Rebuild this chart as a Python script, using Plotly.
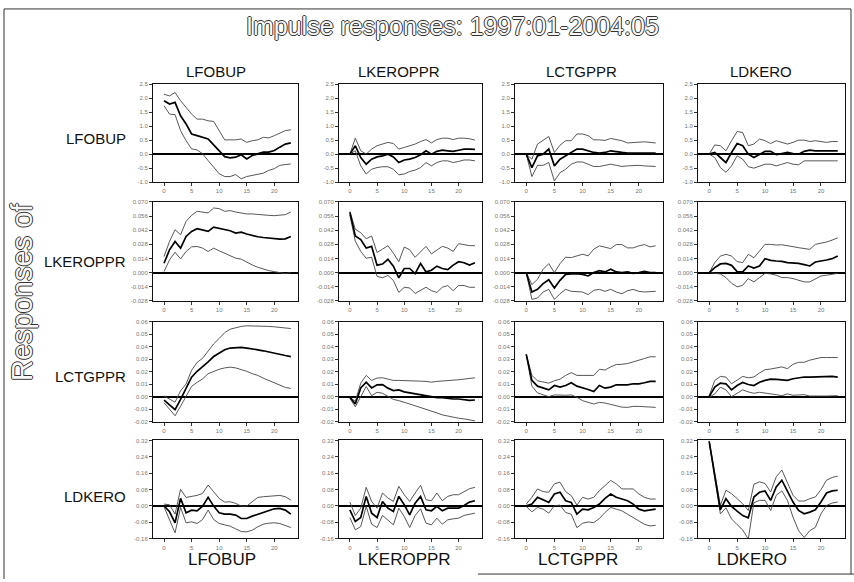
import plotly.graph_objects as go

W, H = 854, 582

# ---------------- data ----------------
periods = list(range(0, 24))
variables = ["LFOBUP", "LKEROPPR", "LCTGPPR", "LDKERO"]
title_text = "Impulse responses: 1997:01-2004:05"
side_text = "Responses of"

# Row 1: responses of LFOBUP
fob_fob_mid = [1.91, 1.79, 1.85, 1.37, 1.08, 0.72, 0.66, 0.60, 0.54, 0.33, 0.13, -0.09, -0.13, -0.11, -0.02, -0.17, -0.05, 0.01, 0.07, 0.07, 0.13, 0.25, 0.36, 0.40]
fob_fob_hi = [2.14, 2.08, 2.20, 1.91, 1.67, 1.43, 1.25, 1.25, 1.19, 1.17, 0.84, 0.51, 0.51, 0.51, 0.54, 0.42, 0.48, 0.51, 0.60, 0.58, 0.66, 0.74, 0.84, 0.87]
fob_fob_lo = [1.73, 1.43, 1.41, 0.84, 0.48, 0.19, 0.15, 0.01, -0.23, -0.47, -0.70, -0.80, -0.80, -0.73, -0.88, -0.80, -0.76, -0.70, -0.68, -0.58, -0.52, -0.40, -0.37, -0.35]

fob_ker_mid = [0.0, 0.30, -0.12, -0.36, -0.18, -0.10, -0.06, 0.0, -0.10, -0.30, -0.21, -0.18, -0.12, -0.02, 0.12, 0.0, 0.10, 0.14, 0.12, 0.10, 0.14, 0.18, 0.18, 0.17]
fob_ker_hi = [0.0, 0.57, 0.12, 0.0, 0.18, 0.30, 0.36, 0.42, 0.38, 0.18, 0.24, 0.30, 0.36, 0.45, 0.52, 0.40, 0.52, 0.57, 0.57, 0.52, 0.57, 0.57, 0.55, 0.50]
fob_ker_lo = [0.0, 0.12, -0.42, -0.71, -0.54, -0.48, -0.45, -0.45, -0.54, -0.74, -0.71, -0.62, -0.57, -0.48, -0.30, -0.42, -0.30, -0.24, -0.24, -0.30, -0.26, -0.21, -0.21, -0.24]

fob_ctg_mid = [0.0, -0.48, -0.06, 0.0, 0.18, -0.42, -0.18, -0.06, 0.08, 0.18, 0.18, 0.12, 0.06, 0.04, 0.06, 0.12, 0.08, 0.06, 0.04, 0.04, 0.02, 0.02, 0.04, 0.04]
fob_ctg_hi = [0.0, -0.18, 0.36, 0.51, 0.63, 0.06, 0.32, 0.48, 0.48, 0.72, 0.72, 0.66, 0.51, 0.51, 0.49, 0.56, 0.51, 0.48, 0.40, 0.42, 0.44, 0.44, 0.42, 0.40]
fob_ctg_lo = [0.0, -0.80, -0.40, -0.40, -0.30, -0.96, -0.66, -0.54, -0.36, -0.28, -0.28, -0.36, -0.44, -0.44, -0.40, -0.36, -0.40, -0.44, -0.42, -0.40, -0.40, -0.42, -0.42, -0.44]

fob_dke_mid = [0.0, 0.06, -0.12, -0.30, 0.06, 0.38, 0.30, 0.0, -0.12, 0.0, 0.10, 0.10, -0.02, 0.02, 0.06, 0.02, 0.0, 0.10, 0.14, 0.12, 0.12, 0.10, 0.12, 0.12]
fob_dke_hi = [0.0, 0.33, 0.30, 0.12, 0.48, 0.81, 0.77, 0.30, 0.36, 0.54, 0.48, 0.38, 0.48, 0.42, 0.36, 0.42, 0.50, 0.50, 0.45, 0.48, 0.45, 0.42, 0.45, 0.45]
fob_dke_lo = [0.0, -0.12, -0.48, -0.65, -0.42, -0.06, -0.18, -0.45, -0.50, -0.42, -0.36, -0.36, -0.42, -0.36, -0.30, -0.36, -0.38, -0.24, -0.24, -0.26, -0.24, -0.26, -0.24, -0.24]

# Row 2: responses of LKEROPPR
ker_fob_mid = [0.0093, 0.0226, 0.0309, 0.0242, 0.0358, 0.0408, 0.0435, 0.0425, 0.0408, 0.0451, 0.0441, 0.0425, 0.0415, 0.0392, 0.0401, 0.0382, 0.0368, 0.0355, 0.0348, 0.0342, 0.0335, 0.0332, 0.0335, 0.0358]
ker_fob_hi = [0.0159, 0.0309, 0.0425, 0.0375, 0.0508, 0.0567, 0.0607, 0.0600, 0.0591, 0.0640, 0.0634, 0.0607, 0.0614, 0.0600, 0.0591, 0.0581, 0.0581, 0.0574, 0.0567, 0.0567, 0.0564, 0.0567, 0.0574, 0.0600]
ker_fob_lo = [0.0010, 0.0126, 0.0202, 0.0136, 0.0209, 0.0255, 0.0259, 0.0242, 0.0209, 0.0242, 0.0216, 0.0192, 0.0169, 0.0143, 0.0133, 0.0103, 0.0076, 0.0053, 0.0033, 0.0020, 0.0010, 0.0000, -0.0010, 0.0000]

ker_ker_mid = [0.0598, 0.0362, 0.0328, 0.0243, 0.0260, 0.0074, 0.0085, 0.0132, 0.0064, -0.0051, 0.0041, 0.0041, -0.0010, 0.0091, 0.0007, 0.0024, 0.0064, 0.0041, 0.0030, 0.0074, 0.0108, 0.0098, 0.0074, 0.0098]
ker_ker_hi = [0.0605, 0.0429, 0.0395, 0.0335, 0.0362, 0.0199, 0.0233, 0.0267, 0.0193, 0.0108, 0.0254, 0.0226, 0.0152, 0.0210, 0.0260, 0.0186, 0.0226, 0.0260, 0.0243, 0.0210, 0.0287, 0.0277, 0.0267, 0.0267]
ker_ker_lo = [0.0571, 0.0311, 0.0210, 0.0142, 0.0152, -0.0037, -0.0051, -0.0027, -0.0078, -0.0196, -0.0145, -0.0152, -0.0206, -0.0179, -0.0145, -0.0179, -0.0196, -0.0145, -0.0128, -0.0179, -0.0128, -0.0128, -0.0145, -0.0145]

ker_ctg_mid = [0.0, -0.0192, -0.0166, -0.0109, -0.0070, -0.0152, -0.0076, -0.0017, -0.0013, -0.0010, -0.0017, -0.0033, 0.0000, 0.0020, 0.0007, 0.0033, 0.0007, 0.0000, 0.0007, -0.0007, 0.0000, 0.0013, 0.0000, 0.0000]
ker_ctg_hi = [0.0, -0.0119, -0.0066, 0.0033, 0.0089, 0.0000, 0.0089, 0.0152, 0.0149, 0.0166, 0.0182, 0.0166, 0.0232, 0.0265, 0.0255, 0.0238, 0.0278, 0.0278, 0.0245, 0.0245, 0.0265, 0.0278, 0.0255, 0.0265]
ker_ctg_lo = [0.0, -0.0265, -0.0252, -0.0192, -0.0166, -0.0265, -0.0209, -0.0166, -0.0185, -0.0185, -0.0192, -0.0218, -0.0175, -0.0166, -0.0185, -0.0166, -0.0192, -0.0209, -0.0179, -0.0166, -0.0185, -0.0192, -0.0192, -0.0185]

ker_dke_mid = [0.0, 0.0049, 0.0086, 0.0092, 0.0072, 0.0010, 0.0007, 0.0066, 0.0046, 0.0066, 0.0138, 0.0122, 0.0115, 0.0112, 0.0099, 0.0095, 0.0092, 0.0079, 0.0066, 0.0105, 0.0112, 0.0125, 0.0138, 0.0164]
ker_dke_hi = [0.0, 0.0099, 0.0164, 0.0181, 0.0164, 0.0109, 0.0099, 0.0181, 0.0148, 0.0214, 0.0280, 0.0280, 0.0273, 0.0276, 0.0263, 0.0257, 0.0247, 0.0237, 0.0230, 0.0280, 0.0289, 0.0303, 0.0322, 0.0345]
ker_dke_lo = [0.0, -0.0007, -0.0013, -0.0049, -0.0105, -0.0141, -0.0125, -0.0059, -0.0092, -0.0049, -0.0007, -0.0013, -0.0026, -0.0049, -0.0049, -0.0059, -0.0072, -0.0092, -0.0092, -0.0059, -0.0033, -0.0026, -0.0020, -0.0007]

# Row 3: responses of LCTGPPR
ctg_fob_mid = [-0.0027, -0.0063, -0.0104, -0.0022, 0.0066, 0.0156, 0.0203, 0.0238, 0.0279, 0.0321, 0.0348, 0.0375, 0.0389, 0.0395, 0.0395, 0.0389, 0.0384, 0.0375, 0.0367, 0.0356, 0.0348, 0.0340, 0.0329, 0.0321]
ctg_fob_hi = [0.0005, -0.0022, -0.0044, 0.0047, 0.0101, 0.0211, 0.0274, 0.0307, 0.0362, 0.0422, 0.0466, 0.0512, 0.0540, 0.0553, 0.0562, 0.0567, 0.0567, 0.0567, 0.0567, 0.0562, 0.0559, 0.0553, 0.0548, 0.0545]
ctg_fob_lo = [-0.0049, -0.0104, -0.0153, -0.0077, 0.0005, 0.0082, 0.0115, 0.0142, 0.0184, 0.0203, 0.0219, 0.0230, 0.0236, 0.0230, 0.0219, 0.0203, 0.0184, 0.0170, 0.0148, 0.0129, 0.0115, 0.0093, 0.0074, 0.0066]

ctg_ker_mid = [-0.0005, -0.0059, 0.0070, 0.0116, 0.0070, 0.0095, 0.0097, 0.0068, 0.0049, 0.0054, 0.0038, 0.0030, 0.0024, 0.0019, 0.0008, -0.0003, -0.0008, -0.0008, -0.0014, -0.0019, -0.0019, -0.0024, -0.0030, -0.0027]
ctg_ker_hi = [-0.0005, -0.0038, 0.0108, 0.0170, 0.0130, 0.0149, 0.0151, 0.0138, 0.0130, 0.0130, 0.0130, 0.0130, 0.0127, 0.0124, 0.0122, 0.0116, 0.0122, 0.0127, 0.0130, 0.0132, 0.0135, 0.0140, 0.0143, 0.0151]
ctg_ker_lo = [-0.0014, -0.0081, 0.0000, 0.0081, 0.0008, 0.0035, 0.0027, 0.0000, -0.0022, -0.0032, -0.0043, -0.0059, -0.0073, -0.0086, -0.0100, -0.0113, -0.0130, -0.0146, -0.0157, -0.0167, -0.0173, -0.0178, -0.0186, -0.0194]

ctg_ctg_mid = [0.0338, 0.0130, 0.0084, 0.0068, 0.0054, 0.0089, 0.0076, 0.0089, 0.0111, 0.0084, 0.0073, 0.0057, 0.0041, 0.0089, 0.0068, 0.0076, 0.0095, 0.0095, 0.0095, 0.0103, 0.0103, 0.0111, 0.0122, 0.0122]
ctg_ctg_hi = [0.0338, 0.0170, 0.0127, 0.0116, 0.0108, 0.0127, 0.0140, 0.0170, 0.0192, 0.0170, 0.0170, 0.0170, 0.0170, 0.0219, 0.0213, 0.0238, 0.0257, 0.0259, 0.0265, 0.0278, 0.0289, 0.0305, 0.0319, 0.0319]
ctg_ctg_lo = [0.0338, 0.0084, 0.0030, 0.0016, 0.0000, 0.0014, 0.0011, 0.0011, 0.0014, -0.0005, -0.0032, -0.0046, -0.0059, -0.0046, -0.0051, -0.0062, -0.0073, -0.0084, -0.0086, -0.0078, -0.0078, -0.0081, -0.0086, -0.0086]

ctg_dke_mid = [0.0000, 0.0076, 0.0108, 0.0103, 0.0054, 0.0089, 0.0113, 0.0097, 0.0089, 0.0116, 0.0130, 0.0140, 0.0138, 0.0135, 0.0130, 0.0143, 0.0151, 0.0157, 0.0157, 0.0159, 0.0162, 0.0162, 0.0162, 0.0157]
ctg_dke_hi = [0.0008, 0.0130, 0.0162, 0.0157, 0.0103, 0.0130, 0.0162, 0.0151, 0.0157, 0.0189, 0.0216, 0.0221, 0.0227, 0.0238, 0.0224, 0.0259, 0.0275, 0.0275, 0.0292, 0.0305, 0.0313, 0.0313, 0.0313, 0.0313]
ctg_dke_lo = [-0.0005, 0.0022, 0.0076, 0.0054, 0.0000, 0.0027, 0.0054, 0.0038, 0.0027, 0.0035, 0.0030, 0.0027, 0.0016, 0.0008, 0.0022, 0.0011, 0.0014, 0.0016, 0.0005, 0.0008, 0.0005, 0.0005, 0.0005, 0.0008]

# Row 4: responses of LDKERO
dke_fob_mid = [0.0000, -0.0295, -0.0836, 0.0361, -0.0344, -0.0213, -0.0246, -0.0016, 0.0410, -0.0016, -0.0344, -0.0410, -0.0410, -0.0459, -0.0623, -0.0623, -0.0508, -0.0410, -0.0312, -0.0213, -0.0148, -0.0131, -0.0213, -0.0410]
dke_fob_hi = [0.0082, 0.0049, -0.0410, 0.0804, 0.0410, 0.0443, 0.0508, 0.0607, 0.1017, 0.0689, 0.0361, 0.0180, 0.0197, 0.0115, -0.0016, -0.0016, 0.0197, 0.0410, 0.0443, 0.0476, 0.0508, 0.0508, 0.0443, 0.0279]
dke_fob_lo = [-0.0049, -0.0738, -0.1328, -0.0082, -0.0836, -0.0787, -0.0869, -0.0672, -0.0213, -0.0672, -0.0869, -0.0935, -0.1000, -0.1131, -0.1263, -0.1279, -0.1197, -0.1033, -0.0902, -0.0853, -0.0836, -0.0869, -0.0951, -0.1066]

dke_ker_mid = [-0.0197, -0.0771, -0.0574, 0.0459, -0.0361, -0.0574, 0.0213, -0.0115, -0.0279, 0.0459, 0.0049, -0.0443, 0.0131, 0.0459, -0.0197, -0.0246, -0.0033, -0.0246, -0.0115, -0.0115, -0.0115, 0.0016, 0.0180, 0.0246]
dke_ker_hi = [0.0180, -0.0476, -0.0115, 0.0902, 0.0213, -0.0115, 0.0623, 0.0377, 0.0213, 0.0951, 0.0541, 0.0213, 0.0623, 0.1000, 0.0295, 0.0246, 0.0623, 0.0246, 0.0459, 0.0541, 0.0541, 0.0705, 0.0836, 0.0902]
dke_ker_lo = [-0.0574, -0.1181, -0.1017, -0.0033, -0.0902, -0.1066, -0.0475, -0.0689, -0.0935, -0.0115, -0.0525, -0.1066, -0.0475, -0.0148, -0.0853, -0.0935, -0.0607, -0.0902, -0.0689, -0.0640, -0.0607, -0.0475, -0.0410, -0.0361]

dke_ctg_mid = [0.0000, 0.0083, 0.0413, 0.0297, 0.0165, 0.0578, 0.0660, 0.0248, 0.0165, -0.0413, -0.0165, -0.0198, -0.0083, 0.0083, 0.0363, 0.0578, 0.0413, 0.0330, 0.0248, 0.0083, -0.0165, -0.0248, -0.0198, -0.0165]
dke_ctg_hi = [0.0083, 0.0413, 0.0825, 0.0693, 0.0660, 0.1073, 0.1155, 0.0693, 0.0495, 0.0033, 0.0413, 0.0330, 0.0413, 0.0743, 0.0990, 0.1238, 0.1073, 0.0825, 0.0825, 0.0825, 0.0578, 0.0413, 0.0330, 0.0330]
dke_ctg_lo = [-0.0033, -0.0297, -0.0083, -0.0165, -0.0363, 0.0000, 0.0033, -0.0330, -0.0413, -0.1073, -0.0858, -0.0792, -0.0825, -0.0627, -0.0330, -0.0083, -0.0165, -0.0248, -0.0413, -0.0578, -0.0743, -0.0908, -0.0990, -0.0957]

dke_dke_mid = [0.3152, 0.1502, -0.0198, 0.0347, -0.0033, -0.0264, -0.0479, -0.0594, 0.0429, 0.0660, 0.0726, 0.0264, 0.0924, 0.1254, 0.0677, 0.0182, -0.0231, -0.0396, -0.0313, -0.0198, 0.0182, 0.0627, 0.0726, 0.0759]
dke_dke_hi = [0.3185, 0.1617, 0.0017, 0.0759, 0.0594, 0.0347, 0.0099, -0.0231, 0.1056, 0.1172, 0.1089, 0.0677, 0.1419, 0.1749, 0.1172, 0.0512, 0.0231, 0.0231, 0.0347, 0.0429, 0.0792, 0.1254, 0.1386, 0.1452]
dke_dke_lo = [0.3119, 0.1386, -0.0396, -0.0099, -0.0644, -0.0924, -0.1188, -0.1634, 0.0149, 0.0264, 0.0264, -0.0231, 0.0512, 0.0726, 0.0264, -0.0561, -0.1221, -0.1551, -0.1221, -0.1056, -0.0396, 0.0017, 0.0132, 0.0182]

# y-axis tick values per row
row1_ticks = [-1.0, -0.5, 0.0, 0.5, 1.0, 1.5, 2.0, 2.5]
row2_ticks = [-0.028, -0.014, 0.0, 0.014, 0.028, 0.042, 0.056, 0.070]
row3_ticks = [-0.02, -0.01, 0.0, 0.01, 0.02, 0.03, 0.04, 0.05, 0.06]
row4_ticks = [-0.16, -0.08, 0.0, 0.08, 0.16, 0.24, 0.32]
x_ticks = [0, 5, 10, 15, 20]

# ---------------- assemble ----------------
panels = [
    [(fob_fob_mid, fob_fob_hi, fob_fob_lo), (fob_ker_mid, fob_ker_hi, fob_ker_lo),
     (fob_ctg_mid, fob_ctg_hi, fob_ctg_lo), (fob_dke_mid, fob_dke_hi, fob_dke_lo)],
    [(ker_fob_mid, ker_fob_hi, ker_fob_lo), (ker_ker_mid, ker_ker_hi, ker_ker_lo),
     (ker_ctg_mid, ker_ctg_hi, ker_ctg_lo), (ker_dke_mid, ker_dke_hi, ker_dke_lo)],
    [(ctg_fob_mid, ctg_fob_hi, ctg_fob_lo), (ctg_ker_mid, ctg_ker_hi, ctg_ker_lo),
     (ctg_ctg_mid, ctg_ctg_hi, ctg_ctg_lo), (ctg_dke_mid, ctg_dke_hi, ctg_dke_lo)],
    [(dke_fob_mid, dke_fob_hi, dke_fob_lo), (dke_ker_mid, dke_ker_hi, dke_ker_lo),
     (dke_ctg_mid, dke_ctg_hi, dke_ctg_lo), (dke_dke_mid, dke_dke_hi, dke_dke_lo)],
]
row_ticks = [row1_ticks, row2_ticks, row3_ticks, row4_ticks]
row_fmt = ["{:.1f}", "{:.3f}", "{:.2f}", "{:.2f}"]

# panel boxes in pixels
col_px = [(153, 298), (339, 482), (515, 663), (698, 845)]
row_px = [(82, 181), (201, 301), (322, 423), (442, 541)]

sans = "Liberation Sans, Arial, sans-serif"
outline = "-1px 0 #333, 1px 0 #333, 0 -1px #333, 0 1px #333"

fig = go.Figure()
layout = {}
k = 0
for r in range(4):
    for c in range(4):
        k += 1
        sfx = "" if k == 1 else str(k)
        mid, hi, lo = panels[r][c]
        for series, color, width in ((hi, "#444", 0.9), (lo, "#444", 0.9), (mid, "#000", 1.7)):
            fig.add_trace(go.Scatter(
                x=periods, y=series, xaxis="x" + sfx, yaxis="y" + sfx, mode="lines",
                line=dict(color=color, width=width), showlegend=False, hoverinfo="skip"))
        x0, x1 = col_px[c]
        y0, y1 = row_px[r]
        ticks = row_ticks[r]
        layout["xaxis" + sfx] = dict(
            domain=[x0 / W, x1 / W], anchor="y" + sfx, range=[-2, 24.3],
            tickvals=x_ticks, ticks="outside", ticklen=3, tickcolor="#333",
            tickfont=dict(size=6, color="#777", family=sans),
            showline=True, linecolor="#111", linewidth=1, mirror=True,
            showgrid=False, zeroline=False)
        layout["yaxis" + sfx] = dict(
            domain=[1 - y1 / H, 1 - y0 / H], anchor="x" + sfx,
            range=[ticks[0], ticks[-1]], tickvals=ticks,
            ticktext=[row_fmt[r].format(v) for v in ticks],
            ticks="outside", ticklen=3, tickcolor="#333",
            tickfont=dict(size=6, color="#777", family=sans),
            showline=True, linecolor="#111", linewidth=1, mirror=True,
            showgrid=False, zeroline=True, zerolinecolor="#000", zerolinewidth=1.6)

annotations = [
    dict(text=title_text, x=452 / W, y=1 - 23 / H, xref="paper", yref="paper",
         showarrow=False, xanchor="center", yanchor="middle",
         font=dict(family=sans, size=25, color="#f8f8f8", shadow=outline)),
    dict(text=side_text, x=22 / W, y=1 - 292 / H, xref="paper", yref="paper",
         showarrow=False, textangle=-90, xanchor="center", yanchor="middle",
         font=dict(family=sans, size=29, color="#f8f8f8", shadow=outline)),
]
top_x = [216, 399, 581, 761]
bot_x = [222, 404, 578, 752]
row_y = [137, 261, 377, 499]
for i, name in enumerate(variables):
    annotations.append(dict(text=name, x=top_x[i] / W, y=1 - 69 / H, xref="paper", yref="paper",
                            showarrow=False, xanchor="center", yanchor="middle",
                            font=dict(family=sans, size=15, color="#111")))
    annotations.append(dict(text=name, x=bot_x[i] / W, y=1 - 562 / H, xref="paper", yref="paper",
                            showarrow=False, xanchor="center", yanchor="middle",
                            font=dict(family=sans, size=17, color="#111")))
    annotations.append(dict(text=name, x=128 / W, y=1 - row_y[i] / H, xref="paper", yref="paper",
                            showarrow=False, xanchor="right", yanchor="middle",
                            font=dict(family=sans, size=15, color="#111")))

frame = dict(color="#333", width=1)
shapes = [
    dict(type="line", xref="paper", yref="paper", x0=4 / W, x1=851 / W, y0=1 - 6 / H, y1=1 - 6 / H, line=frame),
    dict(type="line", xref="paper", yref="paper", x0=4 / W, x1=4 / W, y0=1 - 6 / H, y1=0, line=frame),
    dict(type="line", xref="paper", yref="paper", x0=851 / W, x1=851 / W, y0=1 - 6 / H, y1=1 - 577 / H, line=frame),
    dict(type="line", xref="paper", yref="paper", x0=478 / W, x1=1, y0=1 - 577 / H, y1=1 - 577 / H, line=frame),
]

fig.update_layout(
    width=W, height=H, margin=dict(l=0, r=0, t=0, b=0),
    paper_bgcolor="white", plot_bgcolor="white",
    annotations=annotations, shapes=shapes, **layout)

fig.write_html("out.html")
